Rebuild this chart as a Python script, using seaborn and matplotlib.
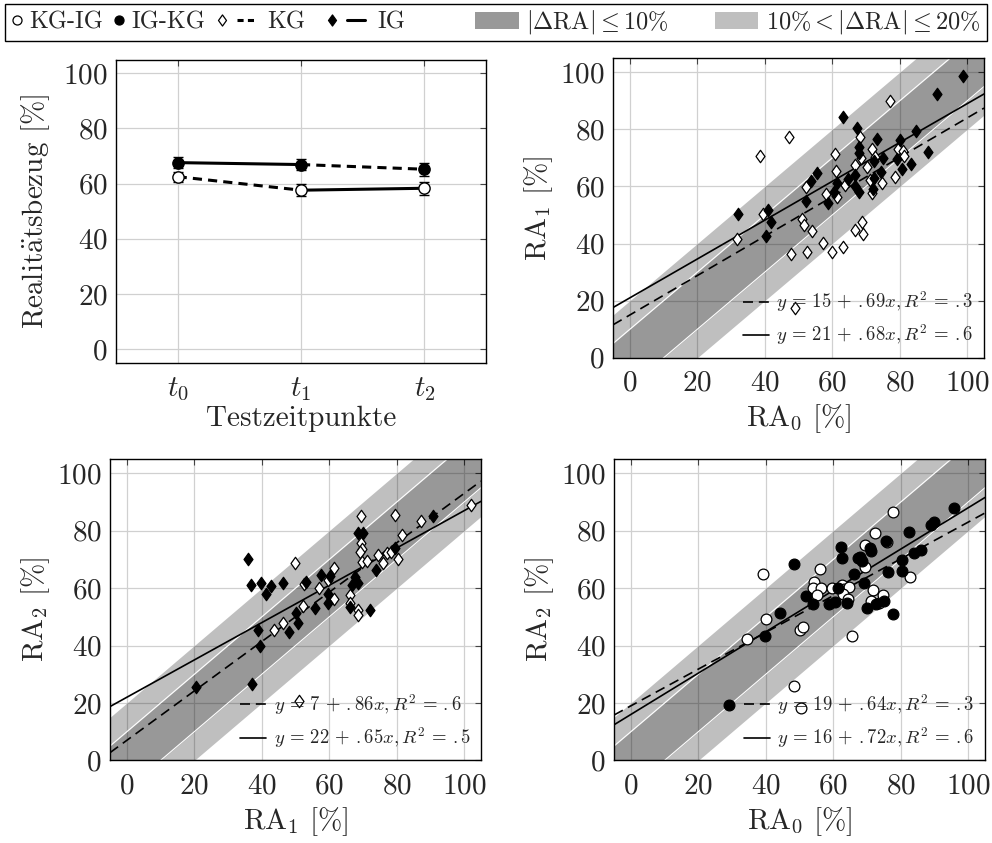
import numpy as np
import matplotlib
matplotlib.use("Agg")
import matplotlib.pyplot as plt
import seaborn as sns
from matplotlib.lines import Line2D
from matplotlib.patches import Patch, Rectangle
from matplotlib.path import Path
from matplotlib.legend_handler import HandlerTuple

sns.set_style("white")
plt.rcParams["font.family"] = ["cmr10", "DejaVu Serif"]
plt.rcParams["mathtext.fontset"] = "cm"
plt.rcParams["axes.formatter.use_mathtext"] = True
plt.rcParams["axes.unicode_minus"] = False

# ---------------- data ----------------
time_labels = [r"$t_0$", r"$t_1$", r"$t_2$"]
kgig_mean = [62.5, 57.6, 58.3]
kgig_err = [1.8, 2.2, 2.3]
igkg_mean = [67.6, 66.9, 65.2]
igkg_err = [2.1, 2.1, 2.3]

# RA0 -> RA1 (diamonds)
tr_kg_x = [31.8, 38.7, 39.5, 47.3, 47.9, 48.9, 52.1, 51.1, 51.7, 52.4, 54.1, 57.2, 58.2, 60.0,
           60.8, 61.2, 61.3, 63.3, 63.9, 66.9, 68.1, 68.6, 66.9, 68.9, 69.1, 70.3, 71.1, 71.7,
           71.9, 77.2, 78.7, 79.4, 80.9, 81.4, 74.7, 72.6]
tr_kg_y = [41.6, 70.7, 50.4, 77.5, 36.4, 17.3, 59.9, 48.6, 46.5, 37.2, 44.5, 40.3, 57.4, 37.2,
           71.4, 65.3, 56.4, 38.8, 60.5, 67.5, 77.3, 69.9, 44.8, 47.5, 43.5, 66.9, 62.3, 73.0,
           57.6, 90.1, 63.2, 73.0, 72.6, 70.6, 61.1, 70.4]
tr_ig_x = [32.0, 41.1, 40.5, 41.7, 52.1, 53.8, 55.5, 58.6, 60.5, 61.4, 63.3, 64.6, 66.9, 67.2,
           67.8, 67.8, 66.8, 68.0, 72.4, 73.2, 72.5, 74.4, 75.2, 72.2, 80.0, 79.3, 80.8, 83.4,
           84.8, 88.4, 91.0, 98.9]
tr_ig_y = [50.4, 51.7, 42.8, 47.7, 55.0, 61.9, 64.8, 54.1, 58.2, 61.1, 84.2, 62.5, 63.9, 80.5,
           74.0, 71.7, 60.3, 58.2, 62.9, 76.5, 69.0, 65.1, 70.1, 59.0, 76.4, 69.8, 66.1, 67.9,
           79.3, 72.0, 92.4, 98.7]

# RA1 -> RA2 (diamonds)
bl_kg_x = [50.9, 43.5, 46.2, 49.8, 52.3, 52.6, 57.1, 61.5, 61.3, 66.3, 66.3, 68.5, 68.5, 69.3,
           69.5, 69.8, 69.0, 69.7, 71.3, 74.4, 75.9, 77.0, 78.2, 79.4, 80.5, 81.5, 87.1, 101.9,
           59.6]
bl_kg_y = [20.8, 45.4, 47.9, 68.7, 53.9, 61.5, 59.9, 67.2, 56.4, 57.6, 54.7, 52.4, 50.5, 85.0,
           75.8, 73.7, 72.7, 69.2, 69.4, 71.5, 68.9, 72.1, 72.7, 85.5, 70.0, 78.5, 83.5, 88.9,
           63.0]
bl_ig_x = [20.4, 37.2, 36.0, 36.7, 39.7, 39.0, 39.4, 41.4, 42.7, 46.3, 48.2, 50.0, 50.6, 53.2,
           55.7, 57.6, 59.5, 59.7, 60.2, 66.3, 67.5, 68.4, 66.7, 68.4, 69.9, 72.2, 73.9, 79.6,
           90.8]
bl_ig_y = [25.4, 26.5, 70.3, 61.1, 61.8, 45.4, 39.9, 58.0, 60.6, 61.7, 44.8, 51.3, 47.9, 62.2,
           53.0, 64.5, 57.8, 54.9, 64.2, 53.3, 63.8, 61.7, 61.1, 79.2, 79.1, 52.3, 66.2, 73.9,
           85.1]

# RA0 -> RA2 (circles)
br_kgig_x = [39.1, 34.4, 40.2, 48.3, 50.5, 50.2, 51.0, 54.4, 54.1, 56.5, 55.2, 56.0, 59.6, 62.5,
             63.3, 64.6, 62.8, 64.4, 65.5, 69.4, 69.5, 71.7, 72.3, 71.1, 73.6, 74.7, 75.9, 77.7,
             82.8]
br_kgig_y = [64.9, 42.3, 49.3, 26.0, 18.1, 45.5, 46.3, 62.3, 59.9, 59.9, 57.5, 66.7, 60.1, 61.1,
             59.7, 60.4, 57.8, 56.4, 43.5, 75.0, 67.5, 59.2, 79.1, 55.7, 55.0, 57.6, 76.2, 86.7,
             63.8]
br_igkg_x = [29.1, 39.9, 44.1, 48.4, 52.0, 54.0, 58.7, 60.5, 61.3, 62.4, 62.6, 64.1, 66.2, 67.3,
             68.5, 67.9, 69.0, 70.0, 70.8, 71.2, 72.7, 75.5, 75.1, 76.2, 77.7, 80.3, 80.4, 82.4,
             84.0, 85.9, 89.0, 89.9, 95.7]
br_igkg_y = [19.3, 43.2, 51.2, 68.3, 57.1, 54.6, 54.5, 55.3, 60.1, 74.3, 70.4, 54.9, 65.0, 70.6,
             69.4, 71.0, 61.8, 53.0, 74.0, 73.0, 54.4, 76.3, 55.7, 65.8, 51.1, 69.8, 65.9, 79.4,
             72.4, 73.3, 82.0, 82.9, 87.8]

# regression lines (intercept, slope, R^2) : KG dashed, IG solid
tr_fit_kg = (15, 0.69, ".3")
tr_fit_ig = (21, 0.68, ".6")
bl_fit_kg = (7, 0.86, ".6")
bl_fit_ig = (22, 0.65, ".5")
br_fit_kg = (19, 0.64, ".3")
br_fit_ig = (16, 0.72, ".6")

band_inner = 10
band_outer = 20

ticks = [0, 20, 40, 60, 80, 100]

# ---------------- figure ----------------
W, H = 992, 843
fig = plt.figure(figsize=(W / 100, H / 100), dpi=100)


def add_ax(l, b, r, t):
    return fig.add_axes([l / W, 1 - b / H, (r - l) / W, (b - t) / H])


DASH = (0, (6, 3.5))
diamond = Path([(0, 1), (0.72, 0), (0, -1), (-0.72, 0), (0, 1)],
               [Path.MOVETO, Path.LINETO, Path.LINETO, Path.LINETO, Path.CLOSEPOLY])


def style(ax):
    ax.grid(True, color="#d0d0d0", lw=0.9)
    ax.set_axisbelow(True)
    ax.tick_params(direction="in", length=4, width=0.8, color="#444444",
                   top=True, right=True, labelsize=21)
    ax.tick_params(axis="x", pad=9)
    ax.tick_params(axis="y", pad=6)
    for s in ax.spines.values():
        s.set_linewidth(1.0)
        s.set_color("black")


# ---- top-left: means over time ----
ax = add_ax(116, 362.8, 486, 59.5)
style(ax)
idx = np.arange(len(time_labels))
seg_styles_kgig = [(0, (3, 2)), "-"]
seg_styles_igkg = ["-", (0, (3, 2))]
for i in range(len(idx) - 1):
    sns.lineplot(x=idx[i:i + 2], y=kgig_mean[i:i + 2], color="black", lw=2.2,
                 linestyle=seg_styles_kgig[i], ax=ax, zorder=2)
    sns.lineplot(x=idx[i:i + 2], y=igkg_mean[i:i + 2], color="black", lw=2.2,
                 linestyle=seg_styles_igkg[i], ax=ax, zorder=2)
ax.errorbar(idx, kgig_mean, yerr=kgig_err, fmt="none", ecolor="black", elinewidth=1,
            capsize=3.5, capthick=1, zorder=3)
ax.errorbar(idx, igkg_mean, yerr=igkg_err, fmt="none", ecolor="black", elinewidth=1,
            capsize=3.5, capthick=1, zorder=3)
sns.scatterplot(x=idx, y=kgig_mean, marker="o", s=66, color="white", edgecolor="black",
                linewidth=1, ax=ax, zorder=4)
sns.scatterplot(x=idx, y=igkg_mean, marker="o", s=66, color="black", edgecolor="black",
                linewidth=1, ax=ax, zorder=4)
ax.set_xlim(-0.5, 2.5)
ax.set_ylim(-5, 105)
ax.set_xticks(idx)
ax.set_xticklabels(time_labels)
ax.set_yticks(ticks)
ax.set_xlabel("Testzeitpunkte", fontsize=21, labelpad=2)
ax.set_ylabel(r"Realit$\mathrm{\ddot{a}}$tsbezug [%]", fontsize=21, labelpad=8)


def scatter_panel(ax, kx, ky, ix, iy, marker, fit_kg, fit_ig, xlabel, ylabel,
                  kg_face="white", ig_face="black", s=80):
    style(ax)
    xs = np.array([-5.0, 105.0])
    ax.fill_between(xs, xs - band_outer, xs + band_outer, color="black", alpha=0.25,
                    lw=0, zorder=1)
    ax.fill_between(xs, xs - band_inner, xs + band_inner, color="black", alpha=0.2,
                    lw=0, zorder=1.1)
    ax.plot(xs, xs + band_inner, color="white", lw=0.8, zorder=1.2)
    ax.plot(xs, xs - band_inner, color="white", lw=0.8, zorder=1.2)
    h1, = ax.plot(xs, fit_kg[0] + fit_kg[1] * xs, color="black", lw=1.2, ls=DASH, zorder=2)
    h2, = ax.plot(xs, fit_ig[0] + fit_ig[1] * xs, color="black", lw=1.2, ls="-", zorder=2)
    sns.scatterplot(x=kx, y=ky, marker=marker, s=s, color=kg_face, edgecolor="black",
                    linewidth=0.9, ax=ax, zorder=3)
    sns.scatterplot(x=ix, y=iy, marker=marker, s=s, color=ig_face, edgecolor="black",
                    linewidth=0.9, ax=ax, zorder=3)
    ax.set_xlim(-5, 105)
    ax.set_ylim(0, 105)
    ax.set_xticks(ticks)
    ax.set_yticks(ticks)
    ax.set_xlabel(xlabel, fontsize=21, labelpad=4)
    ax.set_ylabel(ylabel, fontsize=21, labelpad=4)

    def lab(f):
        return r"$y\, =\, %g\, +\, %sx, R^2\, =\, %s$" % (f[0], ("%.2f" % f[1])[1:], f[2])

    ax.legend([h1, h2], [lab(fit_kg), lab(fit_ig)], loc="lower right", frameon=False,
              fontsize=13.5, handlelength=1.4, handletextpad=0.4, borderaxespad=0.15,
              labelspacing=0.45)


ax_tr = add_ax(613, 357.8, 984, 58)
scatter_panel(ax_tr, tr_kg_x, tr_kg_y, tr_ig_x, tr_ig_y, diamond, tr_fit_kg, tr_fit_ig,
              r"RA$_0$ [%]", r"RA$_1$ [%]")
ax_bl = add_ax(110, 760.4, 481, 459)
scatter_panel(ax_bl, bl_kg_x, bl_kg_y, bl_ig_x, bl_ig_y, diamond, bl_fit_kg, bl_fit_ig,
              r"RA$_1$ [%]", r"RA$_2$ [%]")
ax_br = add_ax(614, 760.4, 985, 459)
scatter_panel(ax_br, br_kgig_x, br_kgig_y, br_igkg_x, br_igkg_y, "o", br_fit_kg, br_fit_ig,
              r"RA$_0$ [%]", r"RA$_2$ [%]", s=60)

# ---- top legend (three groups inside one frame) ----
h_open_c = Line2D([], [], ls="none", marker="o", mfc="white", mec="black", ms=6.5, mew=0.9)
h_fill_c = Line2D([], [], ls="none", marker="o", mfc="black", mec="black", ms=6.5, mew=0.9)
h_open_d = Line2D([], [], ls="none", marker=diamond, mfc="white", mec="black", ms=8, mew=0.9)
h_fill_d = Line2D([], [], ls="none", marker=diamond, mfc="black", mec="black", ms=8, mew=0.9)
h_dash = Line2D([], [], color="black", lw=2.2, ls=(0, (2.0, 1.4)))
h_solid = Line2D([], [], color="black", lw=2.2)
h_dark = Patch(facecolor="#999999", edgecolor="none")
h_light = Patch(facecolor="#bfbfbf", edgecolor="none")

FS = 17.5
leg_y = 1 - 22.5 / H
common = dict(frameon=False, fontsize=FS, borderaxespad=0, borderpad=0)
legA = fig.legend([h_open_c, h_fill_c], ["KG-IG", "IG-KG"], ncol=2, loc="center left",
                  bbox_to_anchor=(11 / W, leg_y), handlelength=0.5, handletextpad=0.25,
                  columnspacing=0.4, **common)
legB = fig.legend([(h_open_d, h_dash), (h_fill_d, h_solid)], ["KG", "IG"], ncol=2,
                  loc="center left", bbox_to_anchor=(171 / W, leg_y), handlelength=1.75,
                  handletextpad=0.5, columnspacing=0.7,
                  handler_map={tuple: HandlerTuple(ndivide=None, pad=0.25)}, **common)
legC = fig.legend([h_dark, h_light],
                  [r"$|\Delta\mathrm{RA}| \leq 10\%$", r"$10\% < |\Delta\mathrm{RA}| \leq 20\%$"],
                  ncol=2, loc="center right", bbox_to_anchor=(980 / W, leg_y),
                  handlelength=1.8, handleheight=0.7, handletextpad=0.3, columnspacing=1.9,
                  **common)
fig.canvas.draw()
bbA = legA.get_window_extent(fig.canvas.get_renderer())
legB.set_bbox_to_anchor(((bbA.x1 + 8) / W, leg_y), transform=fig.transFigure)
fig.add_artist(Rectangle((5 / W, 1 - 41 / H), 982 / W, 37 / H, transform=fig.transFigure,
                         fill=False, edgecolor="black", lw=1.0))

fig.savefig("out.png", dpi=100)
